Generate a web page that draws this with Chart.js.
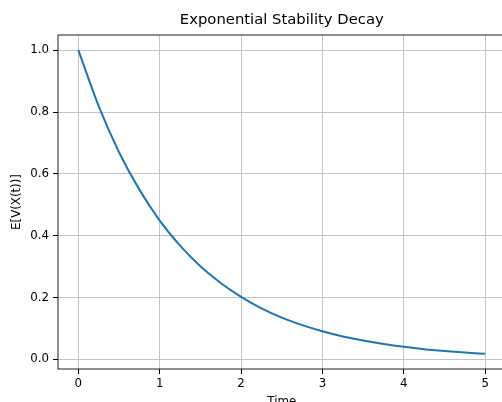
<!DOCTYPE html>
<html><head><meta charset="utf-8">
<script src="https://cdn.jsdelivr.net/npm/chart.js@4/dist/chart.umd.min.js"></script>
<style>
html,body{margin:0;padding:0;background:#fff;overflow:hidden;width:502px;height:402px}
#wrap{position:absolute;left:0;top:0;width:508px;height:412px}
</style></head><body>
<div id="wrap"><canvas id="c" width="508" height="412"></canvas></div>
<script>
const times = [0,0.25,0.5,0.75,1,1.25,1.5,1.75,2,2.25,2.5,2.75,3,3.25,3.5,3.75,4,4.25,4.5,4.75,5];
const expectedV = [1.000,0.819,0.670,0.549,0.449,0.368,0.301,0.247,0.202,0.165,0.135,0.111,0.091,0.074,0.061,0.050,0.041,0.033,0.027,0.022,0.018];
const xTicks = [0,1,2,3,4,5];
const yTicks = [0.0,0.2,0.4,0.6,0.8,1.0];
const titleText = 'Exponential Stability Decay';
const xLabel = 'Time';
const yLabel = 'E[V(X(t))]';

const FONT = 'DejaVu Sans';
const frame = {
  id:'frame',
  afterDraw(chart){
    const {ctx, chartArea:a} = chart;
    ctx.save();
    ctx.strokeStyle = '#222';
    ctx.lineWidth = 1;
    ctx.strokeRect(a.left, a.top, a.right - a.left, a.bottom - a.top);
    ctx.fillStyle = '#000';
    ctx.font = '14.8px "' + FONT + '"';
    ctx.textAlign = 'center';
    ctx.textBaseline = 'middle';
    ctx.fillText(titleText, (a.left + a.right) / 2, 20.5);
    ctx.restore();
  }
};
new Chart(document.getElementById('c'), {
  type:'line',
  data:{datasets:[{
    data: times.map((t,i)=>({x:t,y:expectedV[i]})),
    borderColor:'#1f77b4', borderWidth:2, pointRadius:0, fill:false,
    cubicInterpolationMode:'monotone'
  }]},
  options:{
    responsive:false, animation:false,
    layout:{padding:{left:0,right:2.4,top:35,bottom:0}},
    plugins:{ legend:{display:false}, tooltip:{enabled:false}, title:{display:false} },
    scales:{
      x:{type:'linear',min:-0.25,max:5.25,
        afterBuildTicks:s=>{s.ticks=xTicks.map(v=>({value:v}));},
        afterFit:s=>{s.height=43;},
        ticks:{color:'#000',font:{family:FONT,size:11.8},padding:3,maxRotation:0,
          callback:v=>String(v)},
        grid:{color:'#c4c4c4',lineWidth:1,tickColor:'#000',tickLength:5,tickWidth:1},
        border:{display:false},
        title:{display:true,text:xLabel,color:'#000',font:{family:FONT,size:11.8},padding:{top:0,bottom:3}}
      },
      y:{type:'linear',min:-0.031,max:1.049,
        afterBuildTicks:s=>{s.ticks=yTicks.map(v=>({value:v}));},
        afterFit:s=>{s.width=58;},
        ticks:{color:'#000',font:{family:FONT,size:11.8},padding:4,
          callback:v=>Number(v).toFixed(1)},
        grid:{color:'#c4c4c4',lineWidth:1,tickColor:'#000',tickLength:5,tickWidth:1},
        border:{display:false},
        title:{display:true,text:yLabel,color:'#000',font:{family:FONT,size:11.8},padding:{top:10,bottom:0}}
      }
    }
  },
  plugins:[frame]
});
</script></body></html>
